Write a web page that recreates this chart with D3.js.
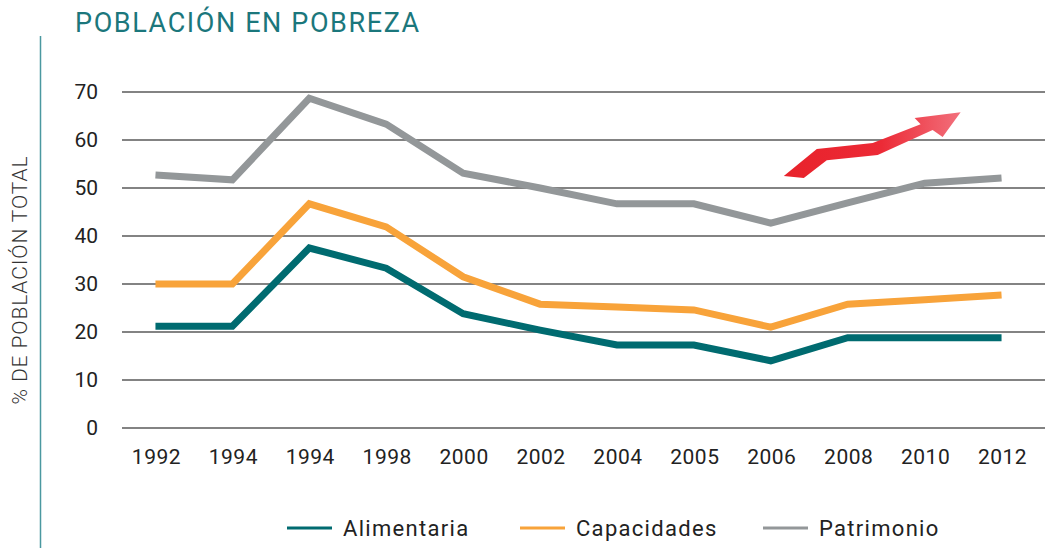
<!DOCTYPE html>
<html>
<head>
<meta charset="utf-8">
<script src="https://cdn.jsdelivr.net/npm/d3@7"></script>
<style>
  body { margin: 0; background: #fff; }
  svg text { font-family: Roboto, "DejaVu Sans", sans-serif; }
</style>
</head>
<body>
<div id="chart"></div>
<script>
// Years as printed on the original (note the repeated 1994 label)
const years = ["1992", "1994", "1994", "1998", "2000", "2002", "2004", "2005", "2006", "2008", "2010", "2012"];
const alimentaria = [21.2, 21.2, 37.5, 33.3, 23.8, 20.4, 17.3, 17.3, 14.0, 18.8, 18.8, 18.8];
const capacidades = [30.0, 30.0, 46.7, 41.9, 31.5, 25.8, 25.2, 24.6, 21.0, 25.8, 26.7, 27.7];
const patrimonio = [52.7, 51.7, 68.7, 63.3, 53.1, 50.0, 46.7, 46.7, 42.7, 46.9, 51.0, 52.1];
const yTicks = [0, 10, 20, 30, 40, 50, 60, 70];

const seriesNames = ["Alimentaria", "Capacidades", "Patrimonio"];
const seriesColors = ["#006b70", "#f8a33a", "#939799"];

const W = 1045, H = 548;
const margin = { top: 92, right: 0, bottom: 120, left: 122 };
const width = W - margin.left - margin.right;
const height = H - margin.top - margin.bottom;

const svg = d3.select("#chart").append("svg")
    .attr("width", W)
    .attr("height", H);

// Title and the thin teal rule on the left
svg.append("text")
    .attr("x", 75).attr("y", 32)
    .attr("fill", "#1b777c")
    .attr("font-size", 27)
    .attr("letter-spacing", 1.6)
    .text("POBLACIÓN EN POBREZA");

svg.append("line")
    .attr("x1", 40.5).attr("x2", 40.5)
    .attr("y1", 36).attr("y2", H)
    .attr("stroke", "#4a98a0").attr("stroke-width", 1.5);

const g = svg.append("g").attr("transform", `translate(${margin.left},${margin.top})`);

const x = d3.scaleBand()
    .domain(d3.range(years.length))
    .range([0, width]);

const y = d3.scaleLinear()
    .domain([0, 70])
    .range([height, 0]);

// gridlines
g.selectAll(".grid")
    .data(yTicks)
    .enter().append("line")
    .attr("x1", 0).attr("x2", width)
    .attr("y1", d => y(d)).attr("y2", d => y(d))
    .attr("stroke", "#5a5a5a").attr("stroke-width", 1.5);

// y tick labels
g.selectAll(".ylab")
    .data(yTicks)
    .enter().append("text")
    .attr("x", -24).attr("y", d => y(d))
    .attr("dy", "0.35em")
    .attr("text-anchor", "end")
    .attr("font-size", 21)
    .attr("fill", "#222")
    .text(d => d);

// x tick labels
g.selectAll(".xlab")
    .data(years)
    .enter().append("text")
    .attr("x", (d, i) => x(i) + x.bandwidth() / 2 - 4)
    .attr("y", height + 36)
    .attr("text-anchor", "middle")
    .attr("font-size", 21)
    .attr("letter-spacing", 0.5)
    .attr("fill", "#222")
    .text(d => d);

// y axis title
svg.append("text")
    .attr("transform", "translate(27,280) rotate(-90)")
    .attr("text-anchor", "middle")
    .attr("font-size", 21)
    .attr("font-weight", 300)
    .attr("letter-spacing", 0.9)
    .attr("fill", "#333")
    .text("% DE POBLACIÓN TOTAL");

// lines
const line = d3.line()
    .x((d, i) => x(i) + x.bandwidth() / 2 - 5)
    .y(d => y(d));

[patrimonio, capacidades, alimentaria].forEach((s, k) => {
  g.append("path")
      .datum(s)
      .attr("fill", "none")
      .attr("stroke", seriesColors[2 - k])
      .attr("stroke-width", 7)
      .attr("stroke-linejoin", "miter")
      .attr("d", line);
});

// red "rising" arrow decoration, placed in chart coordinates
const defs = svg.append("defs");
const grad = defs.append("linearGradient")
    .attr("id", "arrowGrad")
    .attr("x1", "0%").attr("y1", "0%").attr("x2", "100%").attr("y2", "0%");
grad.append("stop").attr("offset", "0%").attr("stop-color", "#e8222b");
grad.append("stop").attr("offset", "55%").attr("stop-color", "#ec2a36");
grad.append("stop").attr("offset", "100%").attr("stop-color", "#f2707c");

const xc = i => x(i) + x.bandwidth() / 2;
const arrowPts = [
  [xc(8) + 8, 52.5], [xc(8) + 41, 58.1], [xc(9) + 20, 59.4], [xc(10) - 9, 63.3],
  [xc(10) - 15, 64.6], [xc(10) + 31, 65.8], [xc(10) + 13, 60.6], [xc(10) + 3, 62.1],
  [xc(9) + 25, 56.9], [xc(8) + 51, 55.8], [xc(8) + 28, 52.1]
];
g.append("path")
    .attr("d", "M" + arrowPts.map(p => [p[0], y(p[1])].join(",")).join("L") + "Z")
    .attr("fill", "url(#arrowGrad)");

// legend
const legendX = [287, 520, 763];
const legend = svg.append("g");
seriesNames.forEach((n, i) => {
  legend.append("line")
      .attr("x1", legendX[i]).attr("x2", legendX[i] + 45)
      .attr("y1", 528).attr("y2", 528)
      .attr("stroke", seriesColors[i]).attr("stroke-width", 3);
  legend.append("text")
      .attr("x", legendX[i] + 56).attr("y", 536)
      .attr("font-size", 22)
      .attr("letter-spacing", 1.3)
      .attr("fill", "#222")
      .text(n);
});
</script>
</body>
</html>
